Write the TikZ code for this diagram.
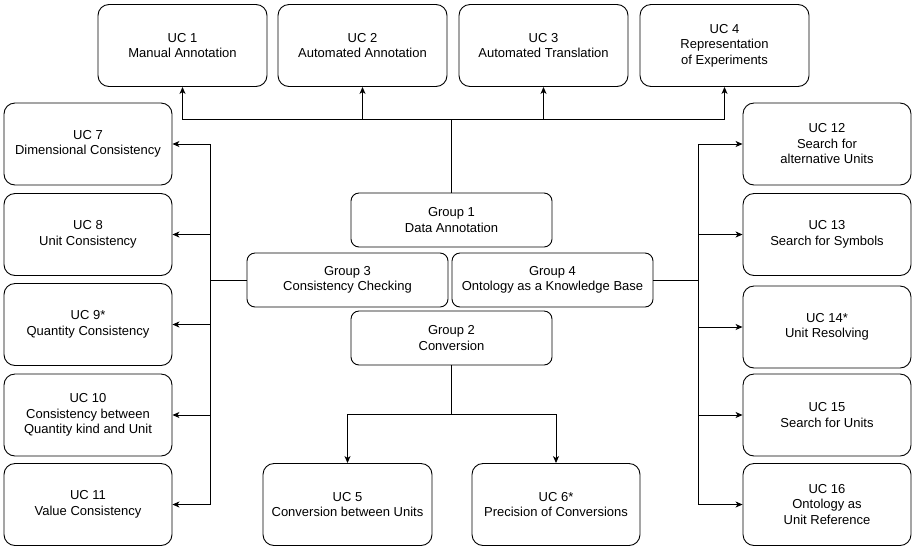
\documentclass[tikz,border=0pt]{standalone}
\usepackage{fontspec}
\setmainfont{Liberation Sans}
\usetikzlibrary{arrows.meta,positioning}
\begin{document}
\begin{tikzpicture}[x=1pt,y=-1pt,
  every node/.style={font=\fontsize{13}{15.5}\selectfont, align=center, inner sep=0pt},
  ucbox/.style={draw, line width=0.9pt, rounded corners=11pt, minimum width=169pt, minimum height=82pt},
  grpbox/.style={draw, line width=0.9pt, rounded corners=8pt, minimum width=201pt, minimum height=54pt},
  conn/.style={line width=0.9pt},
  arr/.style={line width=0.9pt, -{Stealth[length=7pt,width=6pt,inset=2pt]}}]
\useasboundingbox (0,0) rectangle (912,547);
% top row
\node[ucbox] (uc1) at (182.5,45.5) {UC 1\\Manual Annotation};
\node[ucbox] (uc2) at (362.5,45.5) {UC 2\\Automated Annotation};
\node[ucbox] (uc3) at (543.5,45.5) {UC 3\\Automated Translation};
\node[ucbox] (uc4) at (724.5,45.5) {UC 4\\Representation\\of Experiments};
% left column
\node[ucbox, minimum width=168pt] (uc7) at (88,144) {UC 7\\Dimensional Consistency};
\node[ucbox, minimum width=168pt] (uc8) at (88,234.5) {UC 8\\Unit Consistency};
\node[ucbox, minimum width=168pt] (uc9) at (88,324.5) {UC 9*\\Quantity Consistency};
\node[ucbox, minimum width=168pt] (uc10) at (88,415) {UC 10\\Consistency between\\Quantity kind and Unit};
\node[ucbox, minimum width=168pt] (uc11) at (88,504.5) {UC 11\\Value Consistency};
% right column
\node[ucbox, minimum width=168pt] (uc12) at (827,144) {UC 12\\Search for\\alternative Units};
\node[ucbox, minimum width=168pt] (uc13) at (827,234.5) {UC 13\\Search for Symbols};
\node[ucbox, minimum width=168pt] (uc14) at (827,327) {UC 14*\\Unit Resolving};
\node[ucbox, minimum width=168pt] (uc15) at (827,415) {UC 15\\Search for Units};
\node[ucbox, minimum width=168pt] (uc16) at (827,504.5) {UC 16\\Ontology as\\Unit Reference};
% bottom
\node[ucbox] (uc5) at (347.5,504.5) {UC 5\\Conversion between Units};
\node[ucbox, minimum width=168pt] (uc6) at (556,504.5) {UC 6*\\Precision of Conversions};
% groups
\node[grpbox] (g1) at (451.5,220) {Group 1\\Data Annotation};
\node[grpbox] (g3) at (347.5,280) {Group 3\\Consistency Checking};
\node[grpbox] (g4) at (552.5,280) {Group 4\\Ontology as a Knowledge Base};
\node[grpbox] (g2) at (451.5,338) {Group 2\\Conversion};
% buses
\coordinate (tb) at (451.5,119);
\coordinate (lb) at (210,280);
\coordinate (rb) at (698,280);
\coordinate (bb) at (451.5,414);
\draw[conn] (g1.north) -- (tb);
\foreach \n in {uc1,uc2,uc3,uc4} \draw[arr] (tb) -| (\n.south);
\draw[conn] (g3.west) -- (lb);
\foreach \n in {uc7,uc8,uc9,uc10,uc11} \draw[arr] (lb) |- (\n.east);
\draw[conn] (g4.east) -- (rb);
\foreach \n in {uc12,uc13,uc14,uc15,uc16} \draw[arr] (rb) |- (\n.west);
\draw[conn] (g2.south) -- (bb);
\foreach \n in {uc5,uc6} \draw[arr] (bb) -| (\n.north);
\end{tikzpicture}
\end{document}
